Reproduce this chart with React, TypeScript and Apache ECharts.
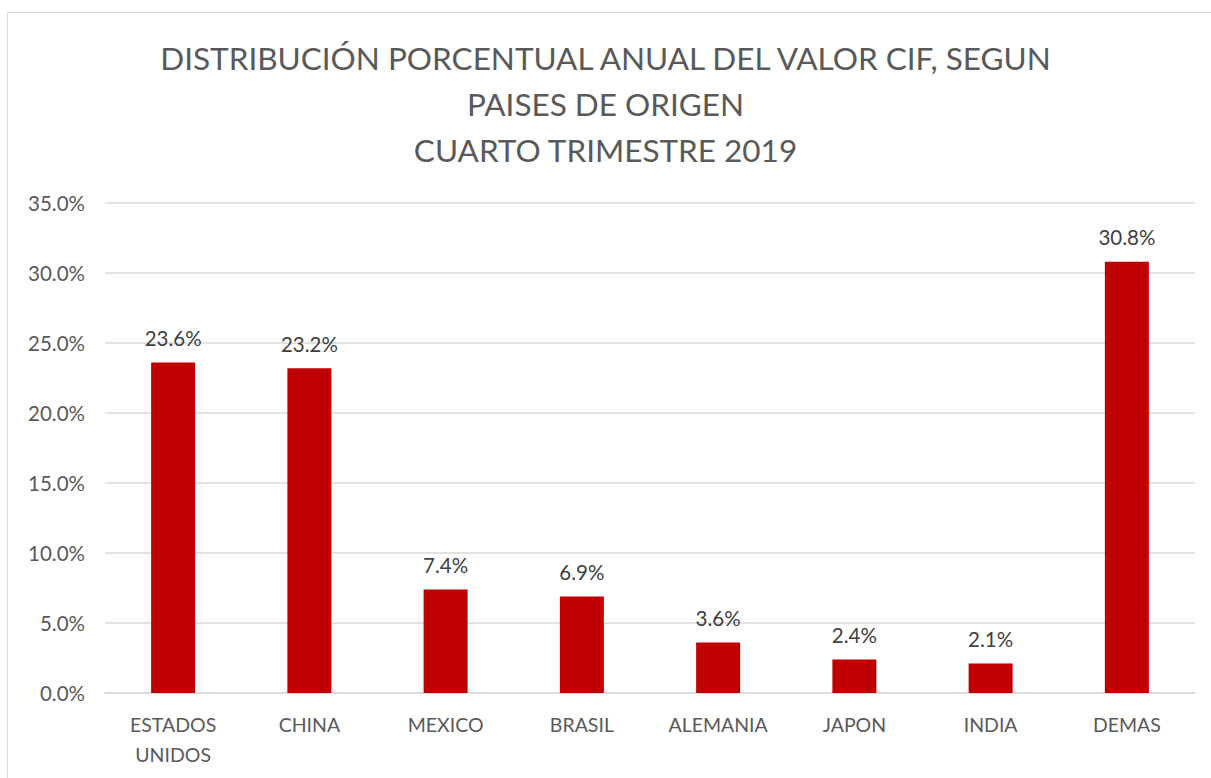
import React, { useEffect, useRef } from "react";
import * as echarts from "echarts";

const categories = ["ESTADOS\nUNIDOS", "CHINA", "MEXICO", "BRASIL", "ALEMANIA", "JAPON", "INDIA", "DEMAS"];
const values = [23.6, 23.2, 7.4, 6.9, 3.6, 2.4, 2.1, 30.8];
const titleLines = [
  "DISTRIBUCIÓN PORCENTUAL ANUAL DEL VALOR CIF, SEGUN",
  "PAISES DE ORIGEN",
  "CUARTO TRIMESTRE 2019",
];

const FONT = "Lato, 'Noto Sans', sans-serif";

export default function App() {
  const ref = useRef<HTMLDivElement>(null);
  useEffect(() => {
    if (!ref.current) return;
    const chart = echarts.init(ref.current, null, { renderer: "svg" });
    chart.setOption({
      animation: false,
      backgroundColor: "#ffffff",
      title: {
        text: titleLines.join("\n"),
        left: "center",
        top: 30,
        textStyle: {
          fontFamily: FONT,
          fontSize: 31.5,
          fontWeight: "normal",
          color: "#595959",
          lineHeight: 46,
        },
      },
      graphic: [
        {
          type: "rect",
          shape: { x: 7.5, y: 12.5, width: 1300, height: 900 },
          style: { fill: "none", stroke: "#d9d9d9", lineWidth: 1 },
          silent: true,
          z: -10,
        },
      ],
      grid: { left: 105, right: 16, top: 203, bottom: 85, containLabel: false },
      xAxis: {
        type: "category",
        data: categories,
        axisLine: { lineStyle: { color: "#d9d9d9", width: 1.5 } },
        axisTick: { show: false },
        axisLabel: {
          fontFamily: FONT,
          fontSize: 19.5,
          color: "#595959",
          lineHeight: 30,
          margin: 16,
        },
      },
      yAxis: {
        type: "value",
        min: 0,
        max: 35,
        interval: 5,
        axisLine: { show: false },
        axisTick: { show: false },
        splitLine: { lineStyle: { color: "#d9d9d9", width: 1.5 } },
        axisLabel: {
          fontFamily: FONT,
          fontSize: 20.5,
          color: "#595959",
          margin: 20,
          formatter: (v: number) => v.toFixed(1) + "%",
        },
      },
      series: [
        {
          type: "bar",
          data: values,
          barWidth: 44,
          itemStyle: { color: "#c00000" },
          label: {
            show: true,
            position: "top",
            distance: 14,
            fontFamily: FONT,
            fontSize: 20.5,
            color: "#404040",
            formatter: (p: any) => p.value.toFixed(1) + "%",
          },
        },
      ],
    });
    return () => chart.dispose();
  }, []);
  return (
    <div
      ref={ref}
      style={{ position: "absolute", left: 0, top: 0, width: 1211, height: 778 }}
    />
  );
}
